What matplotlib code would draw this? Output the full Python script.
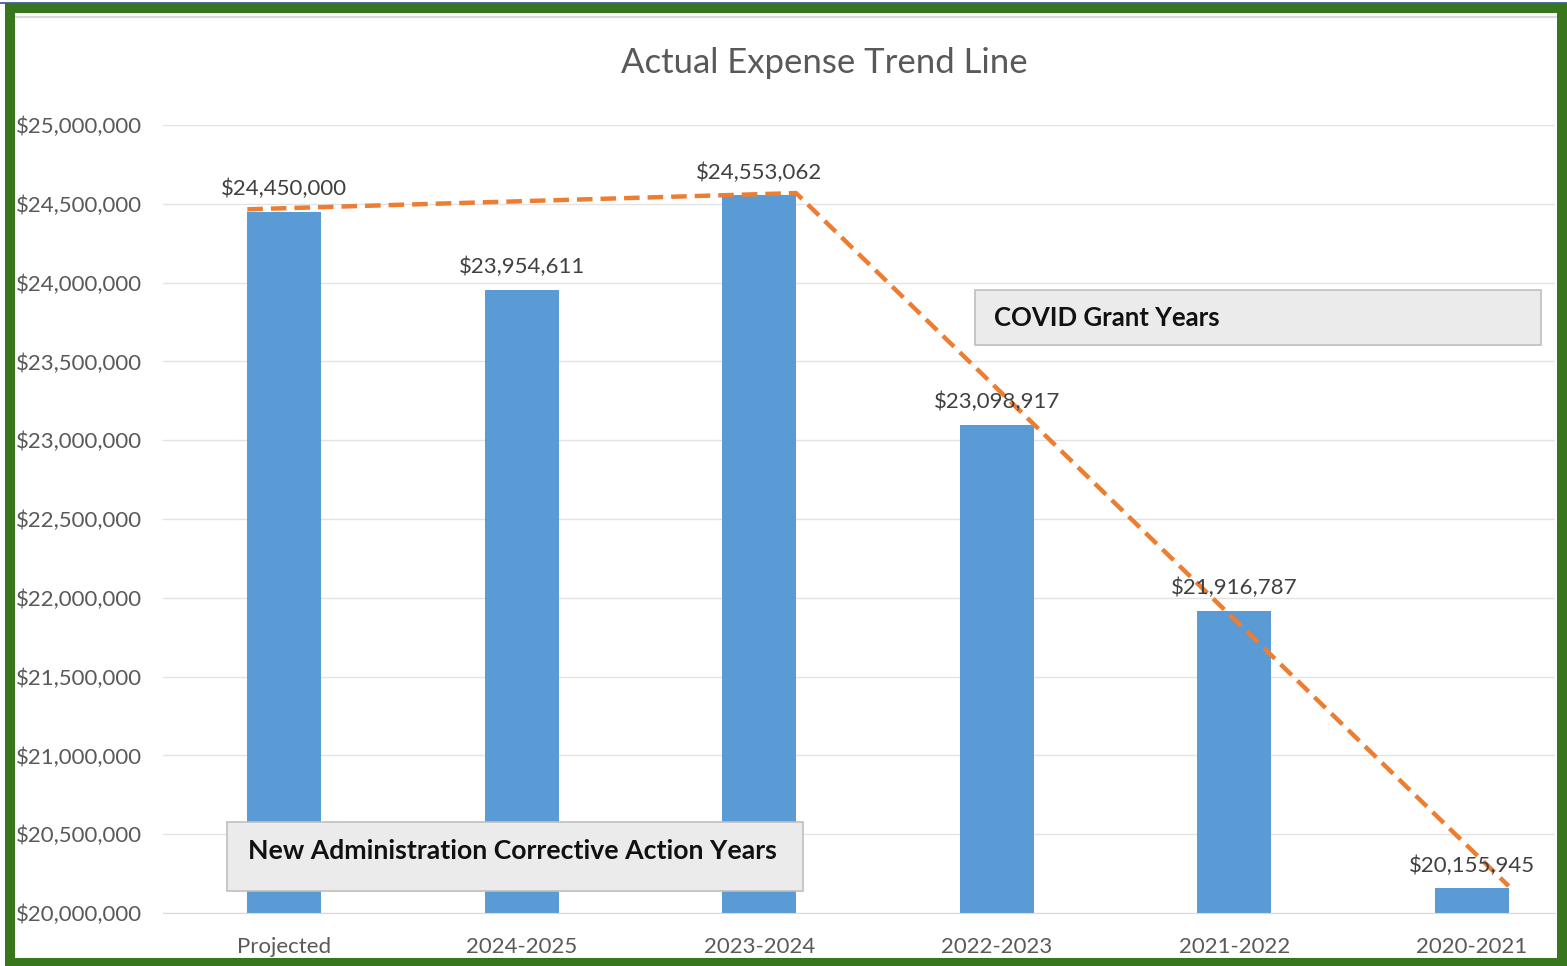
import matplotlib
matplotlib.use("Agg")
import matplotlib.pyplot as plt
from matplotlib.patches import Rectangle
from matplotlib.ticker import FuncFormatter

categories = ["Projected", "2024-2025", "2023-2024", "2022-2023", "2021-2022", "2020-2021"]
values = [24450000, 23954611, 24553062, 23098917, 21916787, 20155945]
# hand-drawn trend line: through Projected, 2023-2024 and 2020-2021
trend_idx = [0, 2, 5]
trend_side = [-1, 1, 1]  # which bar edge the line touches
box_texts = ["COVID Grant Years", "New Administration Corrective Action Years"]

W, H = 1567, 966
fig = plt.figure(figsize=(W / 100, H / 100), dpi=100)
fig.patch.set_facecolor("white")
plt.rcParams["font.family"] = ["Lato", "DejaVu Sans"]

ax = fig.add_axes([163 / W, 53 / H, (1555 - 163) / W, (913 - 125) / H])
bar_w = 0.31
x = list(range(len(categories)))
ax.bar(x, values, width=bar_w, color="#5B9BD5", zorder=2)
ax.set_ylim(20000000, 25000000)
ax.set_xlim(-0.51, 5.35)
ax.set_yticks(range(20000000, 25000001, 500000))
ax.yaxis.set_major_formatter(FuncFormatter(lambda v, p: f"${v:,.0f}"))
ax.set_xticks(x)
ax.set_xticklabels(categories)
ax.tick_params(axis="both", length=0, labelsize=16, labelcolor="#595959")
ax.tick_params(axis="y", pad=15)
ax.tick_params(axis="x", pad=17)
ax.grid(axis="y", color="#E3E3E3", lw=1, zorder=0)
for s in ["top", "right", "left"]:
    ax.spines[s].set_visible(False)
ax.spines["bottom"].set_color("#D9D9D9")

for xi, v in zip(x, values):
    ax.annotate(f"${v:,.0f}", (xi, v), xytext=(0, 9), textcoords="offset points",
                ha="center", va="bottom", fontsize=16, color="#404040", zorder=5)

tx = [trend_idx[i] + trend_side[i] * bar_w / 2 for i in range(3)]
ty = [values[i] + 15000 for i in trend_idx]
ax.plot(tx, ty, color="#ED7D31", lw=3.2, dashes=(3.5, 1.8), zorder=4, clip_on=False)

fig.text(824 / W, 1 - 63 / H, "Actual Expense Trend Line", ha="center", va="center",
         fontsize=25, color="#595959")

# annotation boxes (figure pixel coords)
def box(x0, y0, x1, y1, text, tx0, ty0, fs):
    fig.patches.append(Rectangle((x0 / W, 1 - y1 / H), (x1 - x0) / W, (y1 - y0) / H,
                                 transform=fig.transFigure, facecolor="#EBEBEB",
                                 edgecolor="#BFBFBF", lw=1.2, zorder=6))
    fig.text(tx0 / W, 1 - ty0 / H, text, ha="left", va="center",
             fontsize=fs, fontweight="bold", color="#111111", zorder=7)

box(975, 290, 1541, 345, box_texts[0], 994, 318, 18.5)
box(227, 822, 803, 891, box_texts[1], 248, 851, 19.2)

# faint top line
fig.add_artist(plt.Line2D([15 / W, 1557 / W], [1 - 17 / H, 1 - 17 / H],
                          transform=fig.transFigure, color="#D9D9D9", lw=1.5))

# green frame
g = "#38761D"
for (x0, y0, w, h) in [(5, 3, 1562, 10), (5, 958, 1562, 8), (5, 3, 10, 963), (1557, 3, 10, 963)]:
    fig.patches.append(Rectangle((x0 / W, 1 - (y0 + h) / H), w / W, h / H,
                                 transform=fig.transFigure, facecolor=g, edgecolor="none", zorder=10))
fig.add_artist(plt.Line2D([0, 1], [1 - 2.5 / H, 1 - 2.5 / H], transform=fig.transFigure,
                          color="#2F5597", lw=1.2))

fig.savefig("out.png", dpi=100)
